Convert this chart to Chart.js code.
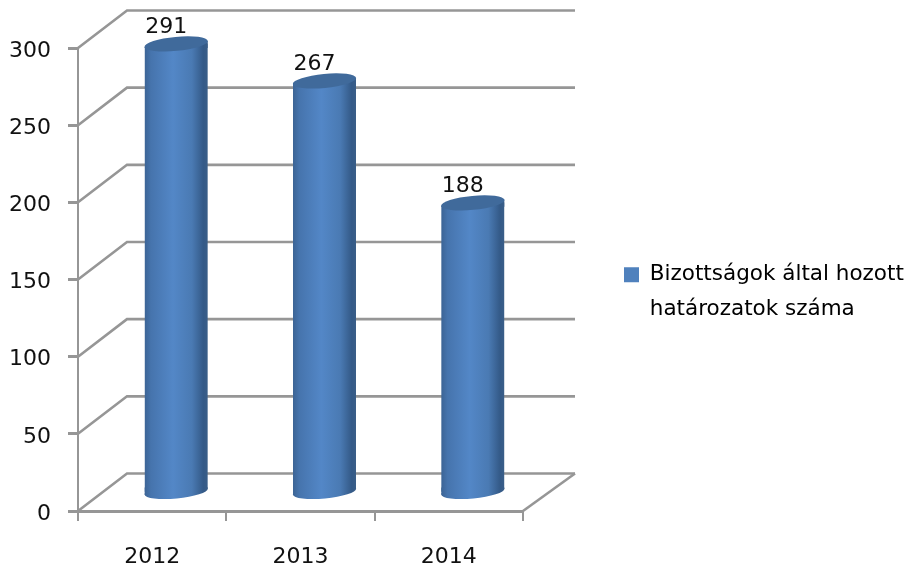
<!DOCTYPE html>
<html><head><meta charset="utf-8">
<style>html,body{margin:0;padding:0;background:#fff}canvas{display:block}</style>
<script src="https://cdn.jsdelivr.net/npm/chart.js@4"></script></head>
<body><canvas id="c" width="909" height="569"></canvas>
<script>
const categories = ['2012', '2013', '2014'];
const seriesName = ['Bizottságok által hozott', 'határozatok száma'];
const values = [291, 267, 188];
const yMax = 300;
const yStep = 50;
const FONT = 'DejaVu Sans';
const GRID = '#969696';
const DEPTH = {dx: 49, dy: -37.5};
const BAR = {dx: 24, dy: -18, tilt: 3, ry: 7, w: 63};

function cylGrad(ctx, x) {
  const g = ctx.createLinearGradient(x - BAR.w / 2, 0, x + BAR.w / 2, 0);
  g.addColorStop(0, '#3c6495');
  g.addColorStop(0.1, '#4674ad');
  g.addColorStop(0.45, '#5387c7');
  g.addColorStop(0.75, '#4a7ab3');
  g.addColorStop(0.93, '#345a88');
  g.addColorStop(1, '#3a5e88');
  return g;
}
function ellipse(ctx, x, y, fill) {
  ctx.beginPath();
  ctx.ellipse(x, y, BAR.w / 2 + 0.3, BAR.ry, -Math.atan2(BAR.tilt * 2, BAR.w), 0, Math.PI * 2);
  ctx.fillStyle = fill;
  ctx.fill();
}
function quad(ctx, x, yl, yr, yFlat, fill) {
  ctx.beginPath();
  ctx.moveTo(x - BAR.w / 2, yl);
  ctx.lineTo(x + BAR.w / 2, yr);
  ctx.lineTo(x + BAR.w / 2, yFlat);
  ctx.lineTo(x - BAR.w / 2, yFlat);
  ctx.closePath();
  ctx.fillStyle = fill;
  ctx.fill();
}
const cylinder3d = {
  id: 'cylinder3d',
  beforeDatasetsDraw(chart) {
    const {ctx, scales: {x, y}} = chart;
    ctx.save();
    ctx.strokeStyle = GRID;
    ctx.lineWidth = 2.6;
    const right = x.right;
    y.ticks.forEach(t => {
      const py = y.getPixelForValue(t.value);
      ctx.beginPath();
      ctx.moveTo(x.left, py);
      ctx.lineTo(x.left + DEPTH.dx, py + DEPTH.dy);
      ctx.lineTo(right + DEPTH.dx + 3, py + DEPTH.dy);
      ctx.stroke();
    });
    const p0 = y.getPixelForValue(0);
    ctx.beginPath();
    ctx.moveTo(right, p0);
    ctx.lineTo(right + DEPTH.dx + 3, p0 + DEPTH.dy);
    ctx.stroke();
    ctx.restore();

    ctx.save();
    ctx.translate(BAR.dx, BAR.dy);
    const bars = chart.getDatasetMeta(0).data;
    bars.forEach(b => {
      const g = cylGrad(ctx, b.x);
      ellipse(ctx, b.x, b.base, g);
      quad(ctx, b.x, b.base + BAR.tilt, b.base - BAR.tilt, b.base - 4, g);
      quad(ctx, b.x, b.y + BAR.tilt, b.y - BAR.tilt, b.y + 4, g);
    });
    ctx.beginPath();
    bars.forEach(b => {
      const l = b.x - BAR.w / 2, r = b.x + BAR.w / 2;
      ctx.moveTo(l, b.y + BAR.tilt);
      ctx.lineTo(r, b.y - BAR.tilt);
      ctx.lineTo(r, b.base - BAR.tilt);
      ctx.lineTo(l, b.base + BAR.tilt);
      ctx.closePath();
    });
    ctx.clip();
  },
  afterDatasetsDraw(chart) {
    const {ctx} = chart;
    ctx.restore();
    ctx.save();
    ctx.translate(BAR.dx, BAR.dy);
    const bars = chart.getDatasetMeta(0).data;
    bars.forEach(b => ellipse(ctx, b.x, b.y, '#406a9b'));
    ctx.fillStyle = '#111';
    ctx.font = '22px "' + FONT + '"';
    ctx.textAlign = 'center';
    ctx.textBaseline = 'middle';
    bars.forEach((b, i) => ctx.fillText(String(values[i]), b.x - 10, b.y - 16.5));
    ctx.restore();
  },
  beforeLayout(chart) {
    const l = chart.legend;
    if (!l._fitWrapped) {
      const fit = l.fit;
      l.fit = function () { fit.call(this); this.width = 386; };
      l._fitWrapped = true;
    }
  },
  afterLayout(chart) {
    const l = chart.legend;
    l.left = 611; l.right = 905; l.top = 251; l.bottom = 420;
    l.width = 294; l.height = 169;
  }
};

new Chart(document.getElementById('c'), {
  type: 'bar',
  data: {
    labels: categories,
    datasets: [{
      label: seriesName.join(' '),
      data: values,
      barThickness: BAR.w,
      clip: false,
      borderWidth: 0,
      backgroundColor: c => {
        const s = c.chart.scales.x;
        if (!s || c.dataIndex === undefined) return '#4f81bd';
        return cylGrad(c.chart.ctx, s.getPixelForValue(c.dataIndex));
      }
    }]
  },
  plugins: [cylinder3d],
  options: {
    responsive: false,
    animation: false,
    layout: {padding: {top: 48, left: 0, right: 0, bottom: 0}},
    plugins: {
      tooltip: {enabled: false},
      legend: {
        position: 'right',
        align: 'start',
        onClick: null,
        labels: {
          boxWidth: 15,
          boxHeight: 15,
          padding: 13,
          color: '#111',
          font: {family: FONT, size: 21.5},
          generateLabels: () => seriesName.map((t, i) => ({
            text: t, fillStyle: i === 0 ? '#4f81bd' : 'rgba(0,0,0,0)', strokeStyle: 'rgba(0,0,0,0)', lineWidth: 0, datasetIndex: 0
          }))
        }
      }
    },
    scales: {
      x: {
        afterFit: s => { s.height = 58; s.paddingRight = 0; s.paddingLeft = 0; },
        grid: {drawOnChartArea: false, drawTicks: true, tickLength: 10, color: GRID, lineWidth: 2},
        border: {color: GRID, width: 3},
        ticks: {padding: 23, color: '#111', font: {family: FONT, size: 22}}
      },
      y: {
        min: 0, max: yMax,
        afterFit: s => { s.width = 78; },
        grid: {drawOnChartArea: false, drawTicks: true, tickLength: 10, color: GRID, lineWidth: 3},
        border: {color: GRID, width: 2},
        ticks: {stepSize: yStep, padding: 17, labelOffset: 3, color: '#111', font: {family: FONT, size: 22}}
      }
    }
  }
});
</script></body></html>
